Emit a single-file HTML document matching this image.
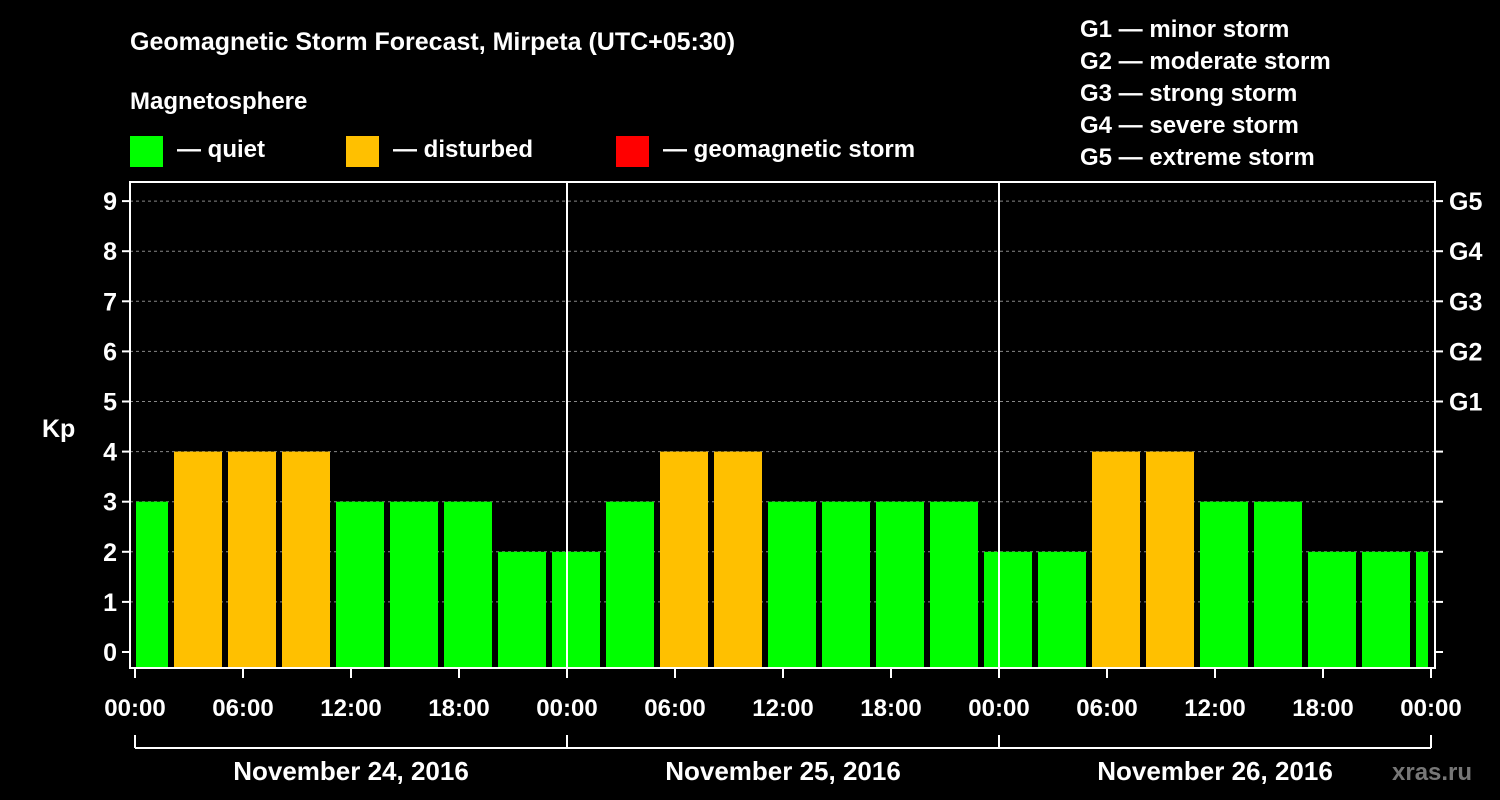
<!DOCTYPE html>
<html><head><meta charset="utf-8"><style>
body{margin:0;background:#000;}
svg{display:block;font-family:"Liberation Sans",sans-serif;font-weight:bold;}
</style></head><body>
<svg id="c" width="1500" height="800" viewBox="0 0 1500 800">
<rect width="1500" height="800" fill="#000"/>
<text x="130" y="50" fill="#fff" font-size="25">Geomagnetic Storm Forecast, Mirpeta (UTC+05:30)</text>
<text x="130" y="109" fill="#fff" font-size="24">Magnetosphere</text>
<rect x="130" y="136" width="33" height="31" fill="#00ff00"/>
<text x="177" y="157" fill="#fff" font-size="24">— quiet</text>
<rect x="346" y="136" width="33" height="31" fill="#ffc000"/>
<text x="393" y="157" fill="#fff" font-size="24">— disturbed</text>
<rect x="616" y="136" width="33" height="31" fill="#ff0000"/>
<text x="663" y="157" fill="#fff" font-size="24">— geomagnetic storm</text>
<g fill="#fff" font-size="24">
<text x="1080" y="37">G1 — minor storm</text>
<text x="1080" y="69">G2 — moderate storm</text>
<text x="1080" y="101">G3 — strong storm</text>
<text x="1080" y="133">G4 — severe storm</text>
<text x="1080" y="165">G5 — extreme storm</text>
</g>
<text x="42" y="437" fill="#fff" font-size="25">Kp</text>
<text x="1392" y="780" fill="#777" font-size="24">xras.ru</text>
<g id="grid"></g><g id="bars"></g><g id="axes"></g>
</svg>
<script>
const kpValues=[3,4,4,4,3,3,3,2,2,3,4,4,3,3,3,3,2,2,4,4,3,3,2,2,2];
const dayLabels=["November 24, 2016","November 25, 2016","November 26, 2016"];
const hourLabels=["00:00","06:00","12:00","18:00"];
const gLabels=["G1","G2","G3","G4","G5"];
const NS="http://www.w3.org/2000/svg";
const L=130,R=1435,T=182,B=668,X0=135,DAY=432;
function y(v){return 652-v*50.1;}
function x(h){return X0+h*DAY/24;}
function mk(tag,attrs,parent){const e=document.createElementNS(NS,tag);for(const k in attrs)e.setAttribute(k,attrs[k]);parent.appendChild(e);return e;}
const grid=document.getElementById('grid'),bars=document.getElementById('bars'),axes=document.getElementById('axes');
for(let v=1;v<=9;v++){const l=mk('line',{x1:L,x2:R,y1:y(v),y2:y(v),stroke:'#888','stroke-dasharray':'3,3','stroke-width':1},grid);

}
const startH=2;
kpValues.forEach((v,i)=>{
 let h0=startH+(i-1)*3,h1=h0+3;
 let x0=x(h0)+3,x1=x(h1)-3;
 x0=Math.max(x0,L+6);x1=Math.min(x1,R-7);
 const col=v>=5?'#ff0000':(v>=4?'#ffc000':'#00ff00');
 const r=mk('rect',{x:x0,y:y(v),width:x1-x0,height:B-y(v),fill:col},bars);
 
 
});
const fr=mk('rect',{x:L,y:T,width:R-L,height:B-T,fill:'none',stroke:'#fff','stroke-width':2},axes);


for(let d=1;d<3;d++){const l=mk('line',{x1:x(24*d),x2:x(24*d),y1:T,y2:B,stroke:'#fff','stroke-width':2},axes);

}
for(let v=0;v<=9;v++){
 mk('line',{x1:L-8,x2:L,y1:y(v),y2:y(v),stroke:'#fff','stroke-width':2},axes);
 mk('line',{x1:R,x2:R+8,y1:y(v),y2:y(v),stroke:'#fff','stroke-width':2},axes);
 const t=mk('text',{x:L-13,y:y(v)+9,fill:'#fff','font-size':25,'text-anchor':'end'},axes);t.textContent=v;
 
 
}
gLabels.forEach((g,i)=>{const t=mk('text',{x:R+14,y:y(5+i)+9,fill:'#fff','font-size':25},axes);t.textContent=g;
 
 });
for(let k=0;k<=12;k++){
 const h=k*6;mk('line',{x1:x(h),x2:x(h),y1:B,y2:B+10,stroke:'#fff','stroke-width':2},axes);
 const t=mk('text',{x:x(h),y:716,fill:'#fff','font-size':24,'text-anchor':'middle'},axes);t.textContent=hourLabels[k%4];
 
 
}
mk('line',{x1:x(0),x2:x(72),y1:748,y2:748,stroke:'#fff','stroke-width':2},axes);
for(let d=0;d<=3;d++)mk('line',{x1:x(24*d),x2:x(24*d),y1:735,y2:748,stroke:'#fff','stroke-width':2},axes);
dayLabels.forEach((s,d)=>{const t=mk('text',{x:x(24*d+12),y:780,fill:'#fff','font-size':26,'text-anchor':'middle'},axes);t.textContent=s;
 
 });
</script>
</body></html>
